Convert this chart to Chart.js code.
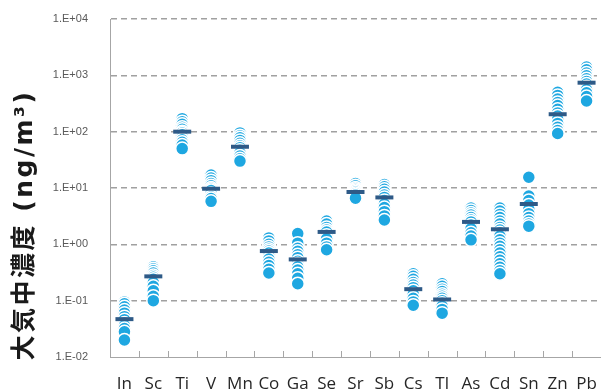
<!DOCTYPE html>
<html>
<head>
<meta charset="utf-8">
<script src="https://cdn.jsdelivr.net/npm/chart.js@4.4.1/dist/chart.umd.min.js"></script>
<style>
  html, body { margin: 0; padding: 0; background: #ffffff; }
  #wrap { width: 601px; height: 392px; position: relative; }
</style>
</head>
<body>
<div id="wrap"><canvas id="c" width="601" height="392"></canvas></div>
<script>
// Elements measured (x-axis categories)
const elements = ['In', 'Sc', 'Ti', 'V', 'Mn', 'Co', 'Ga', 'Se', 'Sr', 'Sb', 'Cs', 'Tl', 'As', 'Cd', 'Sn', 'Zn', 'Pb'];

// Individual sample concentrations per element (ng/m3), listed high to low
const cIn = [0.095, 0.088, 0.078, 0.068, 0.060, 0.052, 0.046, 0.040, 0.036, 0.032, 0.028, 0.020];
const cSc = [0.40, 0.37, 0.34, 0.31, 0.28, 0.26, 0.24, 0.21, 0.18, 0.15, 0.12, 0.10];
const cTi = [170, 150, 135, 120, 110, 100, 95, 88, 80, 72, 65, 58, 50];
const cV  = [17, 15, 13.5, 12, 11, 10, 9.5, 9, 8, 7, 6.5, 5.8];
const cMn = [95, 85, 78, 70, 62, 56, 52, 47, 42, 37, 33, 30];
const cCo = [1.3, 1.15, 1.0, 0.9, 0.82, 0.76, 0.70, 0.62, 0.55, 0.48, 0.42, 0.36, 0.31];
const cGa = [1.55, 1.05, 0.85, 0.75, 0.65, 0.58, 0.50, 0.45, 0.40, 0.35, 0.30, 0.25, 0.20];
const cSe = [2.6, 2.3, 2.0, 1.8, 1.65, 1.45, 1.25, 1.05, 0.90, 0.80];
const cSr = [12, 11, 10, 9.5, 9, 8.5, 8, 7.5, 7, 6.6];
const cSb = [11.5, 10.5, 9.5, 8.5, 7.5, 6.8, 6.0, 5.2, 4.5, 3.8, 3.2, 2.7];
const cCs = [0.30, 0.27, 0.24, 0.21, 0.19, 0.17, 0.15, 0.13, 0.11, 0.095, 0.083];
const cTl = [0.20, 0.18, 0.16, 0.145, 0.13, 0.12, 0.11, 0.10, 0.09, 0.08, 0.07, 0.06];
const cAs = [4.4, 4.0, 3.6, 3.3, 3.0, 2.7, 2.5, 2.2, 1.9, 1.6, 1.4, 1.2];
const cCd = [4.4, 3.9, 3.4, 3.0, 2.6, 2.3, 2.0, 1.8, 1.6, 1.4, 1.2, 1.05, 0.92, 0.80, 0.70, 0.60, 0.52, 0.45, 0.39, 0.34, 0.30];
const cSn = [15.5, 7.2, 6.0, 5.0, 4.2, 3.5, 3.0, 2.6, 2.3, 2.1];
const cZn = [500, 440, 380, 330, 290, 250, 215, 190, 165, 140, 120, 105, 93];
const cPb = [1400, 1250, 1100, 980, 870, 780, 700, 630, 560, 490, 420, 350];

// Central value per element (dark bar)
const centers = [0.047, 0.27, 100, 9.7, 54, 0.76, 0.54, 1.66, 8.5, 6.8, 0.16, 0.105, 2.5, 1.85, 5.2, 204, 740];

// Y-axis tick values
const yTicks = [1e-2, 1e-1, 1e0, 1e1, 1e2, 1e3, 1e4];

const samples = [cIn, cSc, cTi, cV, cMn, cCo, cGa, cSe, cSr, cSb, cCs, cTl, cAs, cCd, cSn, cZn, cPb];

const pointData = [];
samples.forEach((vals, i) => {
  vals.forEach(v => pointData.push({ x: elements[i], y: v }));
});
const centerData = centers.map((v, i) => ({ x: elements[i], y: v }));

function sci(v) {
  const e = Math.round(Math.log10(v));
  const sign = e < 0 ? '-' : '+';
  const a = Math.abs(e);
  return '1.E' + sign + (a < 10 ? '0' + a : a);
}

// Rotated y-axis title and inward category tick marks
const decor = {
  id: 'decor',
  afterDraw(chart) {
    const ctx = chart.ctx;
    const xs = chart.scales.x;
    const area = chart.chartArea;
    ctx.save();
    ctx.strokeStyle = '#a6a6a6';
    ctx.lineWidth = 1;
    const n = elements.length;
    for (let i = 1; i < n; i++) {
      const px = Math.round((xs.getPixelForTick(i - 1) + xs.getPixelForTick(i)) / 2) + 0.5;
      ctx.beginPath();
      ctx.moveTo(px, area.bottom);
      ctx.lineTo(px, area.bottom - 6);
      ctx.stroke();
    }
    ctx.restore();

    ctx.save();
    ctx.translate(25, 225);
    ctx.rotate(-Math.PI / 2);
    ctx.fillStyle = '#1a1a1a';
    ctx.textAlign = 'center';
    ctx.textBaseline = 'middle';
    ctx.font = 'bold 25px "DejaVu Sans", "Noto Sans CJK JP", sans-serif';
    if ('letterSpacing' in ctx) ctx.letterSpacing = '2.5px';
    ctx.fillText('大気中濃度 (ng/m³)', 0, 0);
    ctx.restore();
  }
};

new Chart(document.getElementById('c'), {
  type: 'scatter',
  data: {
    labels: elements,
    datasets: [
      {
        data: centerData,
        pointStyle: 'line',
        pointRadius: 9,
        pointHoverRadius: 9,
        borderColor: '#2e5a87',
        pointBorderWidth: 4,
        showLine: false,
        clip: false
      },
      {
        data: pointData,
        pointStyle: 'circle',
        pointRadius: 6.5,
        pointHoverRadius: 6.5,
        backgroundColor: '#1ea7e1',
        borderColor: '#ffffff',
        pointBorderWidth: 1.5,
        showLine: false,
        clip: false
      }
    ]
  },
  options: {
    responsive: false,
    animation: false,
    events: [],
    layout: { autoPadding: false, padding: { left: 52, top: 19, right: 0, bottom: 0 } },
    plugins: {
      legend: { display: false },
      tooltip: { enabled: false }
    },
    scales: {
      x: {
        type: 'category',
        labels: elements,
        offset: true,
        grid: { display: false },
        border: { display: true, color: '#a6a6a6', width: 1 },
        ticks: {
          color: '#262626',
          font: { family: '"Open Sans", sans-serif', size: 17 },
          padding: 9,
          autoSkip: false,
          maxRotation: 0
        },
        afterFit(scale) {
          scale.height = 35;
          scale.paddingLeft = 0;
          scale.paddingRight = 0;
        }
      },
      y: {
        type: 'logarithmic',
        min: 1e-2,
        max: 1e4,
        afterBuildTicks(scale) {
          scale.ticks = yTicks.map(v => ({ value: v, major: true }));
        },
        grid: {
          color: ctx => (ctx.tick && ctx.tick.value === 1e-2) ? 'rgba(0,0,0,0)' : '#a0a0a0',
          lineWidth: 1.5,
          drawTicks: false
        },
        border: { display: true, color: '#a6a6a6', width: 1, dash: [6, 4] },
        ticks: {
          color: '#595959',
          font: { family: '"Liberation Sans", sans-serif', size: 11 },
          padding: 22,
          callback: v => sci(v)
        },
        afterFit(scale) {
          scale.width = 58;
          scale.paddingTop = 0;
          scale.paddingBottom = 0;
        }
      }
    }
  },
  plugins: [decor]
});
</script>
</body>
</html>
